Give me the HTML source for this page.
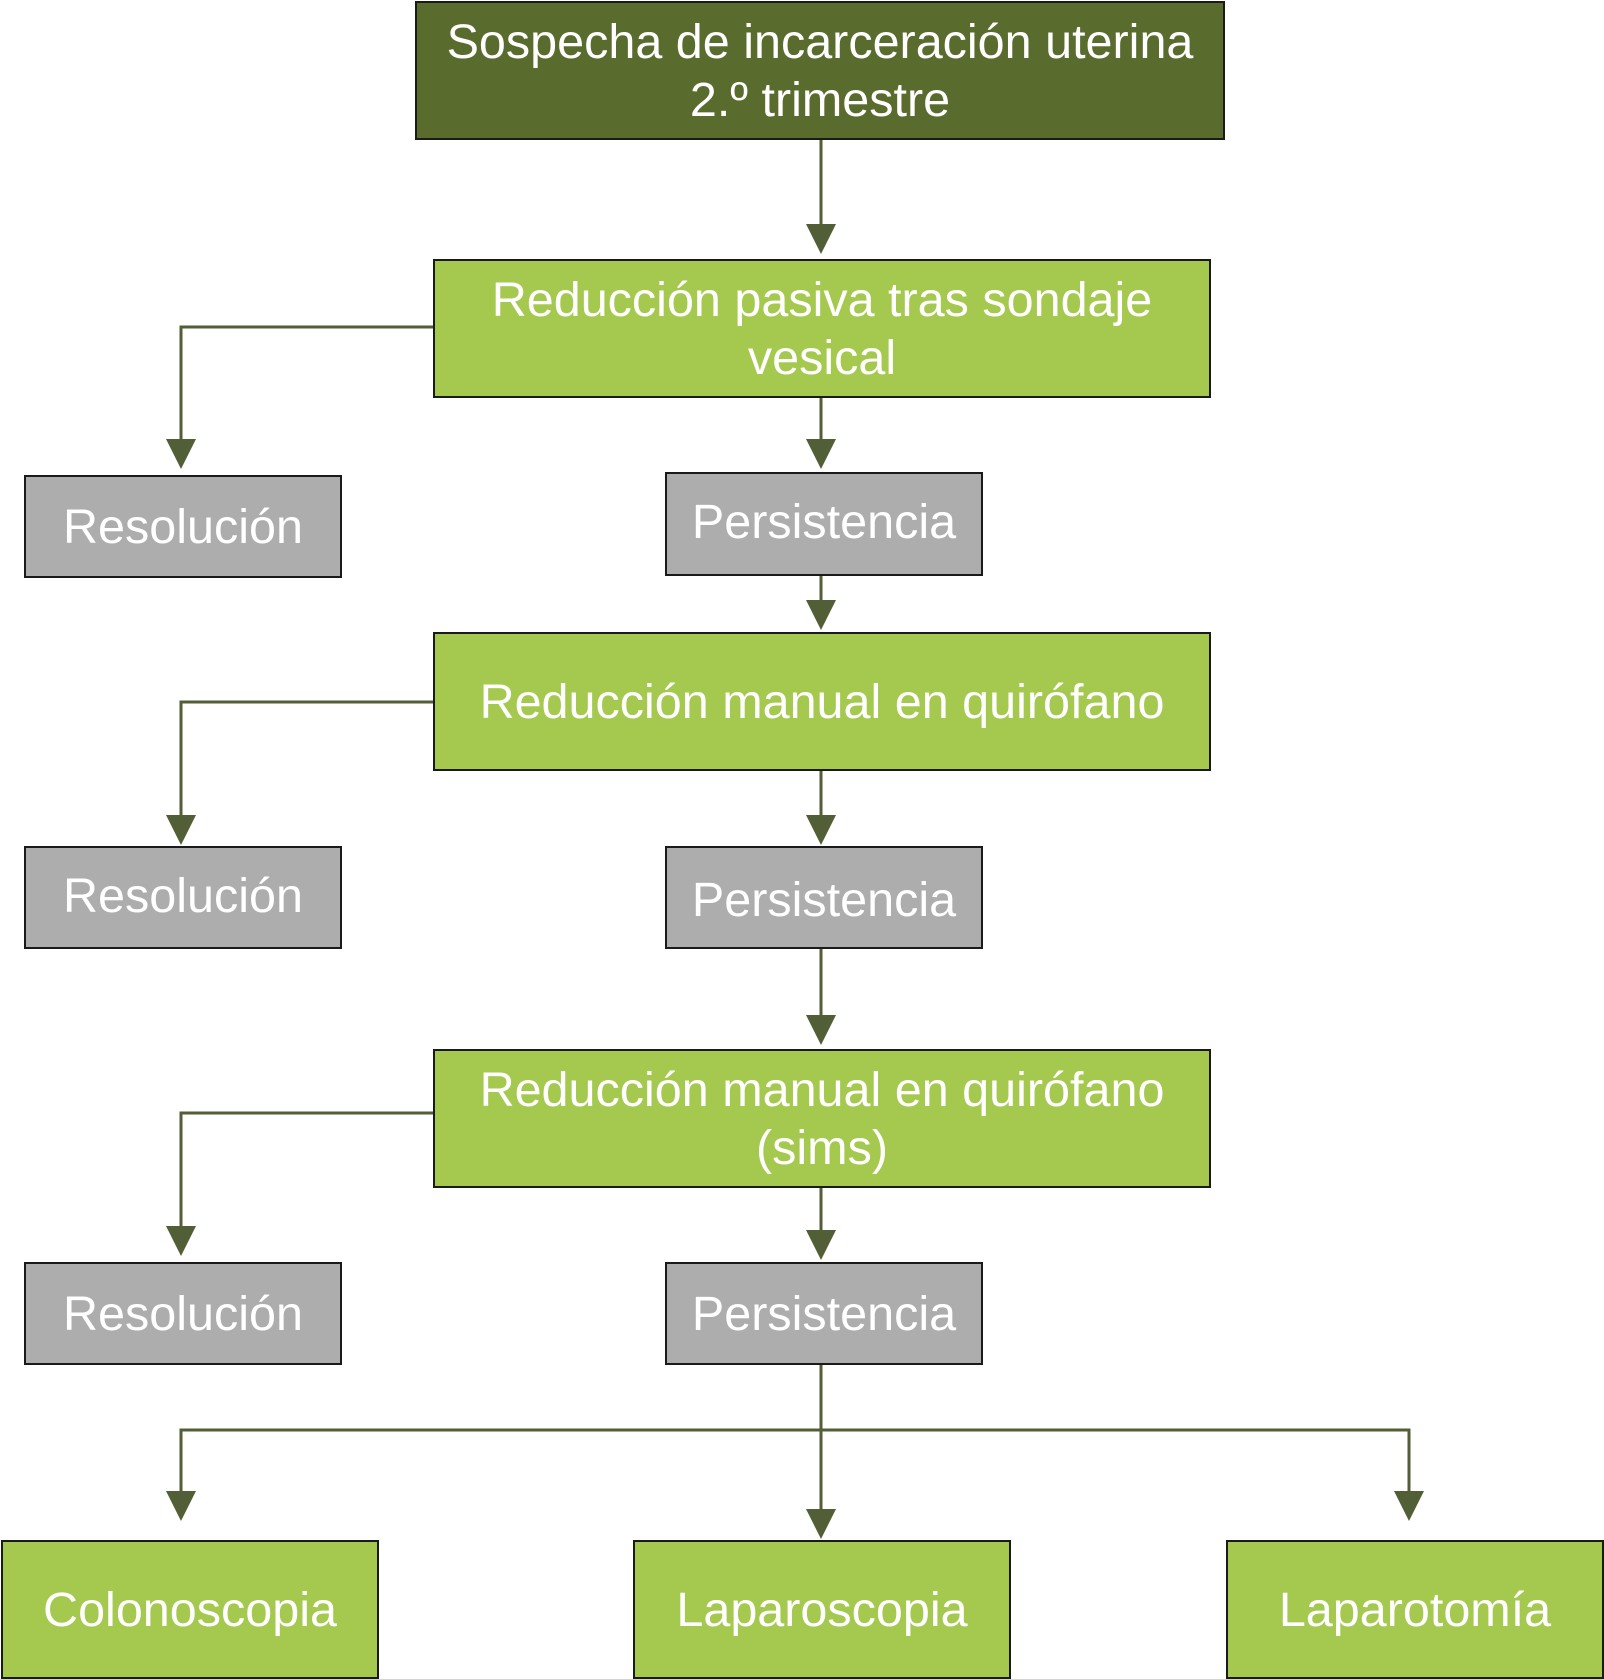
<!DOCTYPE html>
<html><head><meta charset="utf-8"><style>
body{margin:0;width:1604px;height:1679px;background:#fff;position:relative;overflow:hidden;font-family:"Liberation Sans",sans-serif}
.b{position:absolute;box-sizing:border-box;border:2px solid #1a1a1a;color:#fff;display:flex;align-items:center;justify-content:center;text-align:center;font-size:48.5px;line-height:58px}
.d{background:#5a6b2e}.g{background:#a4c94e}.r{background:#adadad}
svg{position:absolute;left:0;top:0}
</style></head><body>
<svg width="1604" height="1679">
<g stroke="#515e36" stroke-width="3" fill="none">
<path d="M821 139V230"/>
<path d="M433 327H181V445"/>
<path d="M821 397V445"/>
<path d="M821 575V606"/>
<path d="M433 702H181V821"/>
<path d="M821 770V821"/>
<path d="M821 948V1021"/>
<path d="M433 1113H181V1232"/>
<path d="M821 1188V1236"/>
<path d="M821 1364V1515"/>
<path d="M181 1497V1430H1409V1497"/>
</g>
<g fill="#515e36">
<path d="M806 224H836L821 254Z"/>
<path d="M166 439H196L181 469Z"/>
<path d="M806 439H836L821 469Z"/>
<path d="M806 600H836L821 630Z"/>
<path d="M166 815H196L181 845Z"/>
<path d="M806 815H836L821 845Z"/>
<path d="M806 1015H836L821 1045Z"/>
<path d="M166 1226H196L181 1256Z"/>
<path d="M806 1230H836L821 1260Z"/>
<path d="M166 1491H196L181 1521Z"/>
<path d="M806 1509H836L821 1539Z"/>
<path d="M1394 1491H1424L1409 1521Z"/>
</g>
</svg>
<div class="b d" style="left:415px;top:1px;width:810px;height:139px">Sospecha de incarceración uterina<br>2.º trimestre</div>
<div class="b g" style="left:433px;top:259px;width:778px;height:139px">Reducción pasiva tras sondaje<br>vesical</div>
<div class="b r" style="left:24px;top:475px;width:318px;height:103px">Resolución</div>
<div class="b r" style="left:665px;top:472px;width:318px;height:104px;padding-bottom:4px">Persistencia</div>
<div class="b g" style="left:433px;top:632px;width:778px;height:139px">Reducción manual en quirófano</div>
<div class="b r" style="left:24px;top:846px;width:318px;height:103px;padding-bottom:4px">Resolución</div>
<div class="b r" style="left:665px;top:846px;width:318px;height:103px;padding-top:4px">Persistencia</div>
<div class="b g" style="left:433px;top:1049px;width:778px;height:139px">Reducción manual en quirófano<br>(sims)</div>
<div class="b r" style="left:24px;top:1262px;width:318px;height:103px">Resolución</div>
<div class="b r" style="left:665px;top:1262px;width:318px;height:103px">Persistencia</div>
<div class="b g" style="left:1px;top:1540px;width:378px;height:139px">Colonoscopia</div>
<div class="b g" style="left:633px;top:1540px;width:378px;height:139px">Laparoscopia</div>
<div class="b g" style="left:1226px;top:1540px;width:378px;height:139px">Laparotomía</div>
</body></html>
